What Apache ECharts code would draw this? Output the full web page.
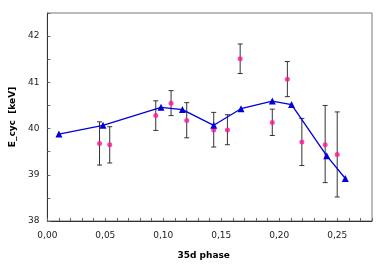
<!DOCTYPE html>
<html><head><meta charset="utf-8">
<script src="https://cdn.jsdelivr.net/npm/echarts@6/dist/echarts.min.js"></script>
<style>html,body{margin:0;padding:0;background:#fff}#c{width:390px;height:265px}</style>
</head><body><div id="c"></div>
<script>
// Model line (blue triangles)
const modelPhase = [0.010, 0.048, 0.098, 0.1165, 0.1435, 0.167, 0.194, 0.2106, 0.241, 0.257];
const modelEcyc  = [39.88, 40.07, 40.46, 40.41, 40.07, 40.43, 40.595, 40.52, 39.41, 38.92];
// Measurements (pink) with error bars
const obsPhase = [0.045, 0.0538, 0.0935, 0.1067, 0.1202, 0.1435, 0.1553, 0.1663, 0.194, 0.207, 0.2195, 0.2396, 0.250];
const obsEcyc  = [39.675, 39.65, 40.28, 40.55, 40.175, 39.97, 39.97, 41.51, 40.13, 41.065, 39.71, 39.65, 39.44];
const obsLow   = [39.21, 39.255, 39.96, 40.28, 39.80, 39.60, 39.65, 41.19, 39.85, 40.69, 39.20, 38.83, 38.52];
const obsHigh  = [40.145, 40.04, 40.60, 40.82, 40.56, 40.35, 40.30, 41.83, 40.42, 41.45, 40.22, 40.50, 40.36];
const xLabelStep = 0.05;
const yLabelStep = 1;

const chart = echarts.init(document.getElementById('c'), null, {renderer: 'canvas'});
const lineData = modelPhase.map((x, i) => [x, modelEcyc[i]]);
const ptData = obsPhase.map((x, i) => [x, obsEcyc[i]]);
const errData = obsPhase.map((x, i) => [x, obsLow[i], obsHigh[i]]);
const font = 'DejaVu Sans';
chart.setOption({
  animation: false,
  grid: {left: 46, top: 13, right: 18, bottom: 41, show: true, borderColor: '#777', borderWidth: 1},
  xAxis: {
    type: 'value', min: 0, max: 0.28, interval: 0.01,
    name: '35d phase', nameLocation: 'middle', nameGap: 30,
    nameTextStyle: {fontFamily: font, fontWeight: 'bold', fontSize: 9, color: '#000', padding: [0, 0, 0, -12]},
    axisLine: {lineStyle: {color: '#333', width: 1}},
    axisTick: {inside: true, length: 3, lineStyle: {color: '#666'}},
    splitLine: {show: false},
    axisLabel: {
      fontFamily: font, fontSize: 9, color: '#222', margin: 10,
      formatter: v => {
        const r = Math.round(v * 100);
        return (r % Math.round(xLabelStep * 100) === 0) && r < 28 ? v.toFixed(2).replace('.', ',') : '';
      }
    }
  },
  yAxis: {
    type: 'value', min: 38, max: 42.5, interval: 0.5,
    name: 'E_cyc  [keV]', nameLocation: 'middle', nameGap: 24,
    nameTextStyle: {fontFamily: font, fontWeight: 'bold', fontSize: 9, color: '#000'},
    axisLine: {show: true, lineStyle: {color: '#333', width: 1}},
    axisTick: {show: true, inside: true, length: 3, lineStyle: {color: '#666'}},
    splitLine: {show: false},
    axisLabel: {
      fontFamily: font, fontSize: 9, color: '#222', margin: 8,
      formatter: v => (Math.abs(v - Math.round(v / yLabelStep) * yLabelStep) < 1e-6 && v < 42.4) ? String(Math.round(v)) : ''
    }
  },
  series: [
    {
      type: 'custom', data: errData, z: 2,
      renderItem: (params, api) => {
        const x = api.value(0);
        const lo = api.coord([x, api.value(1)]);
        const hi = api.coord([x, api.value(2)]);
        const w = 2.5;
        const st = {stroke: '#333', lineWidth: 1};
        return {type: 'group', children: [
          {type: 'line', shape: {x1: lo[0], y1: lo[1], x2: hi[0], y2: hi[1]}, style: st},
          {type: 'line', shape: {x1: lo[0] - w, y1: lo[1], x2: lo[0] + w, y2: lo[1]}, style: st},
          {type: 'line', shape: {x1: hi[0] - w, y1: hi[1], x2: hi[0] + w, y2: hi[1]}, style: st}
        ]};
      }
    },
    {
      type: 'scatter', data: ptData, symbol: 'circle', symbolSize: 5, z: 3,
      itemStyle: {color: '#ff1493'}
    },
    {
      type: 'line', data: lineData, symbol: 'triangle', symbolSize: 7, z: 4,
      lineStyle: {color: '#0000dd', width: 1.3},
      itemStyle: {color: '#0000dd'}
    }
  ]
});
</script></body></html>
